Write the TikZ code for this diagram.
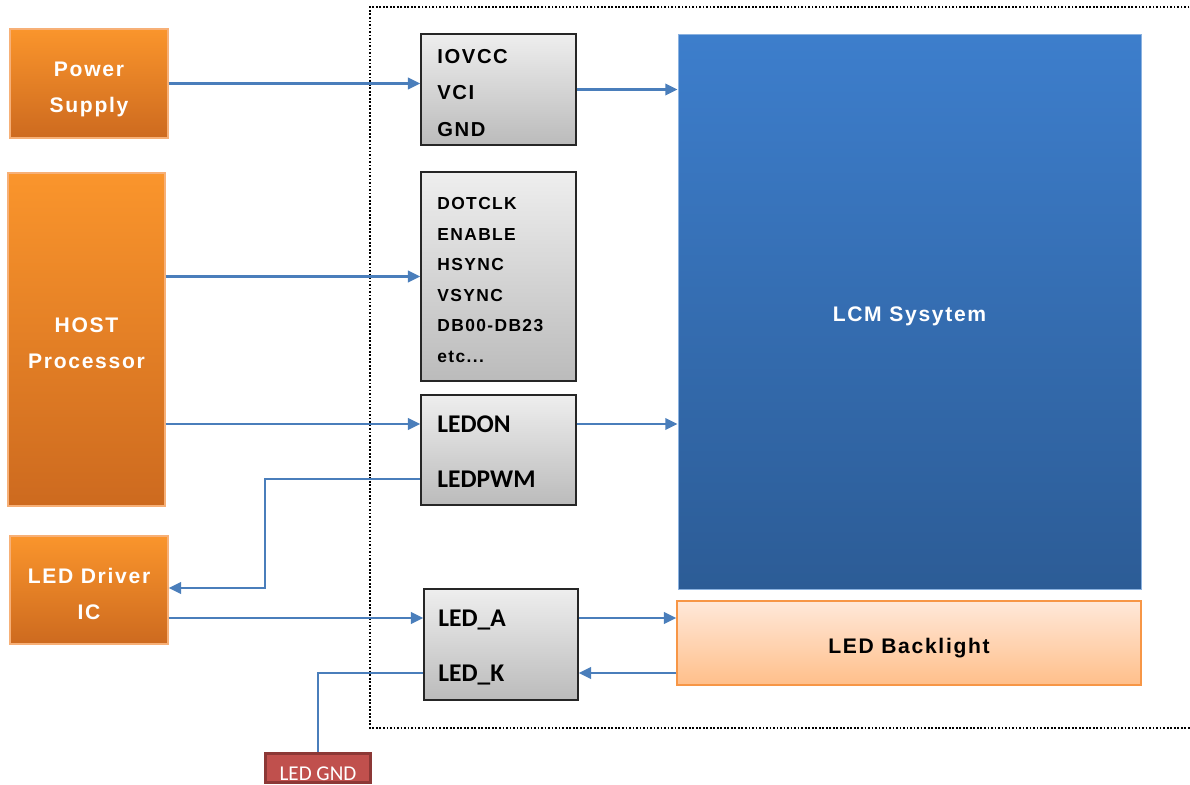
\documentclass[tikz,border=0pt]{standalone}
\usepackage{fontspec}
\usetikzlibrary{arrows.meta}
\newfontfamily\gothic[LetterSpace=8]{Liberation Sans}
\newfontfamily\calib{Carlito}
\newcommand\sinkline[2][3pt]{\raisebox{-#1}[\height][\depth]{#2}}
\definecolor{orangetop}{HTML}{FA952C}
\definecolor{orangebot}{HTML}{CD6A1F}
\definecolor{orangeedge}{HTML}{F7B077}
\definecolor{graytop}{HTML}{EEEEEE}
\definecolor{graybot}{HTML}{BBBBBB}
\definecolor{lcmtop}{HTML}{3D7ECC}
\definecolor{lcmbot}{HTML}{2C5C96}
\definecolor{blttop}{HTML}{FFE8D9}
\definecolor{bltbot}{HTML}{FFBF8A}
\definecolor{bltedge}{HTML}{F79646}
\definecolor{gndfill}{HTML}{C0504D}
\definecolor{gndedge}{HTML}{8C3836}
\definecolor{sigblue}{HTML}{4A7EBB}
\begin{document}
\begin{tikzpicture}[
        hostblock/.style={draw=orangeedge, line width=0.8pt, top color=orangetop, bottom color=orangebot, text=white, align=center, font=\gothic\bfseries\fontsize{12}{20.5}\selectfont},
        pinblock/.style={draw=black!85, line width=0.8pt, top color=graytop, bottom color=graybot},
        pinlabel/.style={anchor=west, inner sep=0pt, text depth=0pt, font=\calib\bfseries\fontsize{14.5}{17}\selectfont},
        sig/.style={draw=sigblue, line width=1.2pt, -{Triangle[length=7pt,width=6.5pt]}},
        wire/.style={draw=sigblue, line width=1.2pt}]

        \useasboundingbox (0,0) rectangle (23.8,-15.7);
        \draw[densely dotted, line width=1pt] (24,-0.14) -| (7.4,-14.56) -- (24,-14.56);

        \node[hostblock, minimum width=3.16cm, minimum height=2.18cm] (psu) at (1.78,-1.67) {\sinkline[3.4pt]{Power}\\\sinkline[3.4pt]{Supply}};
        \node[hostblock, minimum width=3.14cm, minimum height=6.66cm] (host) at (1.73,-6.79) {\sinkline[2pt]{HOST}\\\sinkline[2pt]{Processor}};
        \node[hostblock, minimum width=3.16cm, minimum height=2.16cm] (drv) at (1.78,-11.8) {\sinkline[2.3pt]{LED Driver}\\\sinkline[2.3pt]{IC}};
        \node[draw=gndedge, line width=1.5pt, fill=gndfill, text=white, font=\calib\fontsize{12}{14}\selectfont, minimum width=2.1cm, minimum height=0.58cm, inner sep=0pt] (gnd) at (6.36,-15.36) {\sinkline[3.4pt]{LED GND}};

        \node[pinblock, minimum width=3.1cm, minimum height=2.22cm] (pins1) at (9.97,-1.79) {};
        \node[pinblock, minimum width=3.1cm, minimum height=4.18cm] (pins2) at (9.97,-5.53) {};
        \node[pinblock, minimum width=3.1cm, minimum height=2.2cm] (pins3) at (9.97,-9.0) {};
        \node[pinblock, minimum width=3.08cm, minimum height=2.22cm] (pins4) at (10.02,-12.89) {};

        \node[anchor=west, inner sep=0pt, align=left, font=\gothic\bfseries\fontsize{11.5}{21}\selectfont] (power) at (8.74,-1.86) {IOVCC\\VCI\\GND};
        \node[anchor=west, inner sep=0pt, align=left, font=\gothic\bfseries\fontsize{9.9}{17.4}\selectfont] (rgb) at (8.74,-5.6) {DOTCLK\\ENABLE\\HSYNC\\VSYNC\\DB00-DB23\\etc...};
        \node[pinlabel] (ledon) at (8.74,-8.48) {LEDON};
        \node[pinlabel] (ledpwm) at (8.74,-9.58) {LEDPWM};
        \node[pinlabel] (leda) at (8.76,-12.36) {LED\_A};
        \node[pinlabel] (ledk) at (8.76,-13.46) {LED\_K};

        \node[draw=lcmtop!60!white, line width=0.5pt, top color=lcmtop, bottom color=lcmbot, text=white, font=\gothic\bfseries\fontsize{12}{14}\selectfont, minimum width=9.26cm, minimum height=11.1cm] (lcm) at (18.19,-6.23) {\sinkline{LCM Sysytem}};
        \node[draw=bltedge, line width=0.8pt, top color=blttop, bottom color=bltbot, font=\gothic\bfseries\fontsize{12}{14}\selectfont, minimum width=9.28cm, minimum height=1.68cm] (blt) at (18.18,-12.86) {\sinkline{LED Backlight}};

        \coordinate (pwmbend) at (5.3,-11.76);

        \draw[sig] (psu.east) -- (pins1.west |- psu.east);
        \draw[sig] (pins1.east) -- (pins1.east -| lcm.west);
        \draw[sig] (pins2.west -| host.east) -- (pins2.west);
        \draw[sig] (host.east |- ledon) -- (pins3.west |- ledon);
        \draw[sig] (pins3.east |- ledon) -- (lcm.west |- ledon);
        \draw[sig] (pins3.west |- ledpwm) -| (pwmbend) -- (drv.east |- pwmbend);
        \draw[sig] (drv.east |- leda) -- (pins4.west |- leda);
        \draw[sig] (pins4.east |- leda) -- (blt.west |- leda);
        \draw[sig] (blt.west |- ledk) -- (pins4.east |- ledk);
        \draw[wire] (pins4.west |- ledk) -| (gnd.north);
    \end{tikzpicture}
\end{document}
